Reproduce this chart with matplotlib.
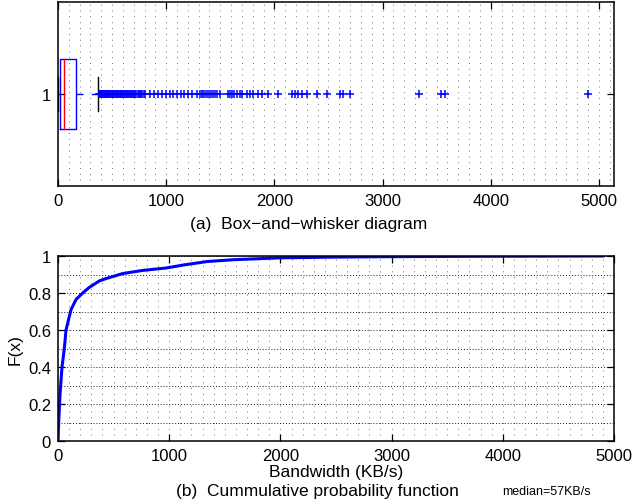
import numpy as np
import matplotlib
matplotlib.use("Agg")
import matplotlib.pyplot as plt
from matplotlib.ticker import MultipleLocator

plt.rcParams['font.family'] = ['Liberation Sans', 'DejaVu Sans']

# box-and-whisker summary (KB/s)
q1, med, q3 = 18, 57, 166
whisk_lo, whisk_hi = 0, 370
outliers = [378, 385, 391, 398, 404, 410, 417, 423, 430, 436, 443, 450, 456,
            463, 470, 476, 483, 490, 497, 504, 511, 518, 526, 533, 541, 548,
            556, 563, 571, 579, 587, 595, 603, 612, 620, 629, 638, 647, 656,
            665, 675, 684, 694, 704, 714, 724, 735, 746, 757, 768, 779, 791,
            803, 850, 887, 924, 961, 998, 1035, 1063, 1100, 1137, 1165, 1202,
            1238, 1285, 1312, 1331, 1345, 1360, 1380, 1400, 1415, 1435, 1455,
            1470, 1497, 1571, 1590, 1610, 1630, 1655, 1680, 1700, 1746, 1774,
            1802, 1851, 1882, 1944, 2036, 2160, 2190, 2221, 2252, 2298, 2391,
            2483, 2606, 2637, 2699, 3337, 3545, 3575, 4898]

# CDF curve
cdf_x = [0, 6, 18, 36, 57, 72, 117, 162, 222, 281, 371, 431, 581, 761, 970,
         1135, 1340, 1580, 1995, 2500, 2900, 3600, 4900]
cdf_y = [0, 0.1, 0.25, 0.4, 0.5, 0.6, 0.71, 0.765, 0.8, 0.83, 0.865, 0.878,
         0.905, 0.922, 0.935, 0.952, 0.97, 0.98, 0.99, 0.994, 0.996, 0.998, 1.0]

W, H = 634, 502
fig = plt.figure(figsize=(W / 100, H / 100), dpi=100)

def px_axes(l, t, r, b):
    return fig.add_axes([l / W, (H - b) / H, (r - l) / W, (b - t) / H])

def style(ax):
    for s in ax.spines.values():
        s.set_linewidth(1.1)
    ax.tick_params(direction='in', length=5, width=0.9, top=True, right=True,
                   labelsize=12, pad=5)
    ax.tick_params(which='minor', length=0)

# ---- (a) box plot
ax1 = px_axes(58, 3, 614, 187)
bh = 0.19
ax1.plot([q1, q3, q3, q1, q1], [1 - bh, 1 - bh, 1 + bh, 1 + bh, 1 - bh], color='blue', lw=1)
ax1.plot([med, med], [1 - bh, 1 + bh], color='red', lw=1)
ax1.plot([q3, whisk_hi], [1, 1], color='blue', lw=1, ls=(0, (5, 6)))
ax1.plot([whisk_lo, q1], [1, 1], color='blue', lw=1, ls=(0, (5, 6)))
ax1.plot([whisk_hi, whisk_hi], [1 - bh / 2, 1 + bh / 2], color='black', lw=1)
ax1.plot([whisk_lo, whisk_lo], [1 - bh / 2, 1 + bh / 2], color='black', lw=1)
ax1.plot(outliers, [1] * len(outliers), ls='none', marker='+', color='blue',
         ms=6, mew=1.1)
ax1.set_xlim(0, 5140)
ax1.set_ylim(0.5, 1.5)
ax1.set_yticks([1])
ax1.set_xticks([0, 1000, 2000, 3000, 4000, 5000])
ax1.xaxis.set_minor_locator(MultipleLocator(100))
ax1.grid(which='both', axis='x', color='0.45', lw=0.7, ls=(0, (1, 5)))
ax1.set_axisbelow(True)
style(ax1)
fig.text(309 / W, 1 - 224 / H, '(a)  Box\u2212and\u2212whisker diagram',
         ha='center', va='center', fontsize=12.5)

# ---- (b) CDF
ax2 = px_axes(58, 257, 614, 442)
ax2.plot(cdf_x, cdf_y, color='blue', lw=2.2)
ax2.set_xlim(0, 5000)
ax2.set_ylim(0, 1)
ax2.set_xticks([0, 1000, 2000, 3000, 4000, 5000])
ax2.set_yticks([0, 0.2, 0.4, 0.6, 0.8, 1])
ax2.set_yticklabels(['0', '0.2', '0.4', '0.6', '0.8', '1'])
ax2.xaxis.set_minor_locator(MultipleLocator(100))
ax2.yaxis.set_minor_locator(MultipleLocator(0.1))
ax2.grid(which='both', axis='x', color='0.45', lw=0.7, ls=(0, (1, 5)))
ax2.grid(which='both', axis='y', color='0.1', lw=0.7, ls=(0, (1, 2)))
ax2.set_axisbelow(True)
style(ax2)
ax2.set_xlabel('Bandwidth (KB/s)', fontsize=12.5, labelpad=1)
ax2.set_ylabel('F(x)', fontsize=12.5, labelpad=4)
fig.text(317 / W, 1 - 492 / H, '(b)  Cummulative probability function',
         ha='center', va='center', fontsize=12.5)
fig.text(546 / W, 1 - 492 / H, 'median=57KB/s', ha='center', va='center',
         fontsize=9)

fig.savefig('out.png', dpi=100)
